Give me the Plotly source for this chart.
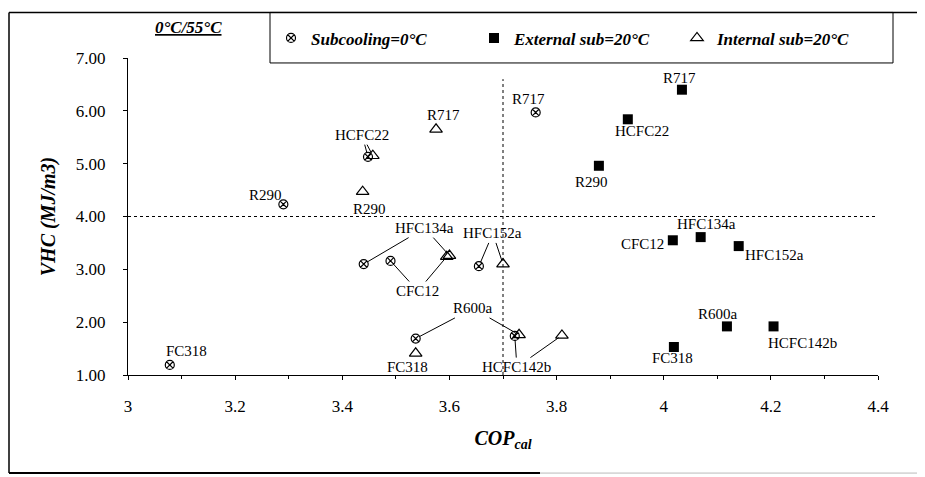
import plotly.graph_objects as go

# ---------------- data ----------------
categories = ["R717", "HCFC22", "R290", "CFC12", "HFC134a", "HFC152a", "R600a", "HCFC142b", "FC318"]
cop_sub0 = [3.761, 3.448, 3.290, 3.490, 3.440, 3.655, 3.537, 3.722, 3.078]
vhc_sub0 = [5.97, 5.13, 4.23, 3.16, 3.10, 3.06, 1.69, 1.74, 1.19]
cop_ext = [4.034, 3.933, 3.879, 4.017, 4.069, 4.140, 4.118, 4.205, 4.019]
vhc_ext = [6.40, 5.84, 4.96, 3.55, 3.61, 3.44, 1.92, 1.92, 1.53]
cop_int = [3.575, 3.457, 3.438, 3.595, 3.600, 3.700, 3.730, 3.810, 3.537]
vhc_int = [5.65, 5.15, 4.47, 3.24, 3.26, 3.10, 1.76, 1.75, 1.41]

series_names = ["Subcooling=0°C", "External sub=20°C", "Internal sub=20°C"]
x_ticks = [3, 3.2, 3.4, 3.6, 3.8, 4, 4.2, 4.4]
y_ticks = [1, 2, 3, 4, 5, 6, 7]

# ---------------- label placement (layout) ----------------
# (text, label centre x, label centre y, [(series, category), ...] linked by leader lines)
labels = [
    ("R717", 3.748, 6.22, []),
    ("R290", 3.256, 4.41, []),
    ("FC318", 3.110, 1.45, []),
    ("R717", 3.588, 5.92, []),
    ("R290", 3.450, 4.15, []),
    ("FC318", 3.522, 1.15, []),
    ("HCFC22", 3.437, 5.54, [("sub0", "HCFC22"), ("int", "HCFC22")]),
    ("HFC134a", 3.554, 3.78, [("sub0", "HFC134a"), ("int", "HFC134a")]),
    ("CFC12", 3.541, 2.59, [("sub0", "CFC12"), ("int", "CFC12")]),
    ("HFC152a", 3.681, 3.68, [("sub0", "HFC152a"), ("int", "HFC152a")]),
    ("R600a", 3.644, 2.26, [("sub0", "R600a"), ("int", "R600a")]),
    ("HCFC142b", 3.726, 1.15, [("sub0", "HCFC142b"), ("int", "HCFC142b")]),
    ("R717", 4.030, 6.63, []),
    ("HCFC22", 3.959, 5.62, []),
    ("R290", 3.866, 4.66, []),
    ("CFC12", 3.961, 3.48, []),
    ("HFC134a", 4.080, 3.85, []),
    ("HFC152a", 4.207, 3.27, []),
    ("R600a", 4.101, 2.16, []),
    ("HCFC142b", 4.259, 1.60, []),
    ("FC318", 4.017, 1.32, []),
]

SERIF = "Liberation Serif, Times New Roman, serif"
points = {
    "sub0": dict(zip(categories, zip(cop_sub0, vhc_sub0))),
    "ext": dict(zip(categories, zip(cop_ext, vhc_ext))),
    "int": dict(zip(categories, zip(cop_int, vhc_int))),
}

fig = go.Figure()
fig.add_trace(go.Scatter(
    x=cop_sub0, y=vhc_sub0, mode="markers", name=series_names[0],
    marker=dict(symbol="circle-x-open", size=9, color="black", line=dict(width=1.2, color="black")),
))
fig.add_trace(go.Scatter(
    x=cop_ext, y=vhc_ext, mode="markers", name=series_names[1],
    marker=dict(symbol="square", size=10, color="black", line=dict(width=0)),
))
fig.add_trace(go.Scatter(
    x=cop_int, y=vhc_int, mode="markers", name=series_names[2],
    marker=dict(symbol="triangle-up-open", size=11, color="black", line=dict(width=1.2, color="black")),
))

LABEL_FONT = 15
annotations = []
for text, lx, ly, links in labels:
    annotations.append(dict(
        x=lx, y=ly, xref="x", yref="y", text=text, showarrow=False,
        font=dict(family=SERIF, size=LABEL_FONT, color="black"),
    ))
    for ser, cat in links:
        px, py = points[ser][cat]
        annotations.append(dict(
            x=px, y=py, xref="x", yref="y", ax=lx, ay=ly, axref="x", ayref="y",
            text=text, showarrow=True, arrowhead=0, arrowwidth=1, arrowcolor="black",
            standoff=4, font=dict(family=SERIF, size=LABEL_FONT, color="rgba(0,0,0,0)"),
        ))

# page-pixel helpers (the page adds an 8 px body margin; plot area spans 128..878 x 55..375)
def px_x(p):
    return (p - 128) / 750

def px_y(p):
    return (375 - p) / 320

annotations.append(dict(
    x=px_x(188), y=px_y(24), xref="paper", yref="paper", xanchor="center", yanchor="middle",
    text="<b><i><u>0°C/55°C</u></i></b>", showarrow=False,
    font=dict(family=SERIF, size=17, color="black"),
))

shapes = [
    # dotted reference lines
    dict(type="line", xref="x", yref="y", x0=3, x1=4.4, y0=4, y1=4,
         line=dict(color="black", width=1, dash="dot")),
    dict(type="line", xref="x", yref="y", x0=3.7, x1=3.7, y0=1, y1=6.6,
         line=dict(color="black", width=1, dash="dot")),
    # outer frame
    dict(type="line", xref="paper", yref="paper", x0=px_x(9), x1=px_x(9), y0=px_y(9), y1=px_y(474),
         line=dict(color="black", width=1.5)),
    dict(type="line", xref="paper", yref="paper", x0=px_x(9), x1=px_x(925), y0=px_y(9), y1=px_y(9),
         line=dict(color="black", width=1.5)),
    dict(type="line", xref="paper", yref="paper", x0=px_x(9), x1=px_x(540), y0=px_y(474), y1=px_y(474),
         line=dict(color="black", width=2)),
    dict(type="line", xref="paper", yref="paper", x0=px_x(540), x1=px_x(925), y0=px_y(474), y1=px_y(474),
         line=dict(color="#bbbbbb", width=1)),
    # legend box
    dict(type="rect", xref="paper", yref="paper", x0=px_x(270), x1=px_x(893), y0=px_y(60), y1=px_y(9),
         line=dict(color="black", width=1), fillcolor="rgba(0,0,0,0)"),
]

fig.update_layout(
    width=917, height=469,
    margin=dict(l=120, r=47, t=47, b=102),
    paper_bgcolor="white", plot_bgcolor="white",
    font=dict(family=SERIF, size=15, color="black"),
    showlegend=True,
    legend=dict(
        orientation="h", x=px_x(271), y=px_y(17), xanchor="left", yanchor="top",
        font=dict(family=SERIF, size=17, color="black", weight="bold", style="italic"),
        bgcolor="rgba(0,0,0,0)", borderwidth=0,
        entrywidth=158, entrywidthmode="pixels", itemclick=False,
    ),
    annotations=annotations,
    shapes=shapes,
    xaxis=dict(
        range=[3, 4.4], tickvals=x_ticks, ticktext=[f"{v:g}" for v in x_ticks],
        showgrid=False, zeroline=False, showline=True, linecolor="black", linewidth=1,
        ticks="outside", ticklen=4, tickcolor="black", ticklabelstandoff=12,
        minor=dict(dtick=0.1, ticks="outside", ticklen=3, tickcolor="black"),
        tickfont=dict(family=SERIF, size=17),
        title=dict(text="<b><i>COP<sub>cal</sub></i></b>", font=dict(family=SERIF, size=20), standoff=15),
    ),
    yaxis=dict(
        range=[1, 7], tickvals=y_ticks, tickformat=".2f",
        showgrid=False, zeroline=False, showline=True, linecolor="black", linewidth=1,
        ticks="outside", ticklen=4, tickcolor="black", ticklabelstandoff=14,
        tickfont=dict(family=SERIF, size=17),
        title=dict(text="<b><i>VHC (MJ/m3)</i></b>", font=dict(family=SERIF, size=20), standoff=14),
    ),
)

fig.write_html("out.html")
